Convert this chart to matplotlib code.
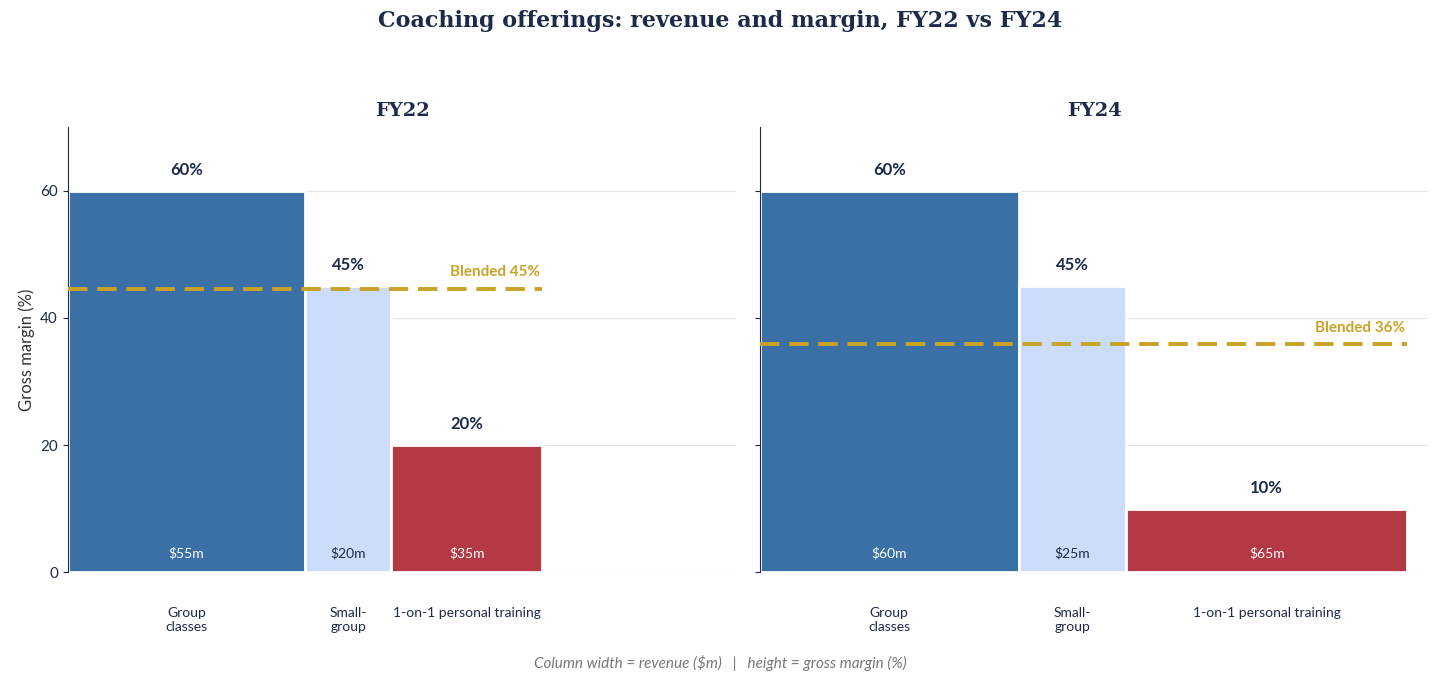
import matplotlib.pyplot as plt
import numpy as np

plt.rcParams['font.family'] = ['Lato', 'DejaVu Sans']

categories = ["Group\nclasses", "Small-\ngroup", "1-on-1 personal training"]
years = ["FY22", "FY24"]
revenue = {"FY22": [55, 20, 35], "FY24": [60, 25, 65]}
margin = {"FY22": [60, 45, 20], "FY24": [60, 45, 10]}
colors = ["#3a70a6", "#cbddfb", "#b33a45"]
rev_text_colors = ["white", "#1d2a4a", "white"]
navy = "#1d2a4a"
gold = "#c9a227"

fig, axes = plt.subplots(1, 2, figsize=(14.4, 6.87), dpi=100, sharey=True)
fig.subplots_adjust(left=0.047, right=0.992, top=0.815, bottom=0.167, wspace=0.035)

for ax, yr in zip(axes, years):
    w = np.array(revenue[yr], dtype=float)
    h = np.array(margin[yr], dtype=float)
    lefts = np.concatenate([[0], np.cumsum(w)[:-1]])
    ax.bar(lefts, h, width=w, align='edge', color=colors, edgecolor='white', linewidth=2, zorder=2)
    for l, ww, hh, cat, tc in zip(lefts, w, h, categories, rev_text_colors):
        cx = l + ww / 2
        ax.text(cx, hh + 2, f"{hh:.0f}%", ha='center', va='bottom', fontsize=12,
                fontweight='bold', color=navy)
        ax.text(cx, 3, f"${ww:.0f}m", ha='center', va='center', fontsize=10, color=tc)
        ax.text(cx, -5.5, cat, ha='center', va='top', fontsize=10, color=navy)
    blended = (w * h).sum() / w.sum()
    total = w.sum()
    ax.plot([0, total], [blended, blended], color=gold, lw=2.8, ls=(0, (5, 2.5)), zorder=3)
    ax.text(total - 0.5, blended + 1.5, f"Blended {blended:.0f}%", ha='right', va='bottom',
            fontsize=11, fontweight='bold', color=gold)
    ax.set_xlim(0, 155)
    ax.set_ylim(0, 70)
    ax.set_yticks([0, 20, 40, 60])
    ax.set_xticks([])
    ax.grid(axis='y', color='#e3e3e3', lw=0.8, zorder=0)
    for s in ['top', 'right', 'bottom']:
        ax.spines[s].set_visible(False)
    ax.spines['left'].set_color(navy)
    ax.tick_params(axis='y', colors=navy, labelsize=11)
    ax.set_title(yr, fontsize=14, fontweight='bold', color=navy, family='DejaVu Serif', pad=8)

axes[0].set_ylabel("Gross margin (%)", fontsize=12, color='#333333')
fig.suptitle("Coaching offerings: revenue and margin, FY22 vs FY24", fontsize=16,
             fontweight='bold', color=navy, family='DejaVu Serif', y=0.985)
fig.text(0.5, 0.028, "Column width = revenue ($m)   |   height = gross margin (%)",
         ha='center', fontsize=11, style='italic', color='#777777')

fig.savefig("out.png", dpi=100)
